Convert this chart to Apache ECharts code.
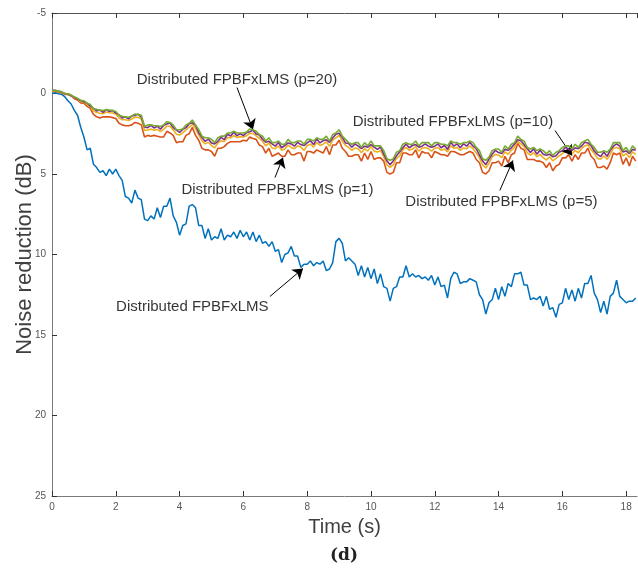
<!DOCTYPE html>
<html>
<head>
<meta charset="utf-8">
<script src="https://cdn.jsdelivr.net/npm/echarts@6/dist/echarts.min.js"></script>
<style>
html,body{margin:0;padding:0;background:#fff;}
#chart{width:638px;height:574px;}
</style>
</head>
<body>
<div id="chart"></div>
<script>
// Sample spacing (s) of the series below; sample i is at time i*DT
const DT = 0.1;
const xTicks = [0, 2, 4, 6, 8, 10, 12, 14, 16, 18];
const yTicks = [-5, 0, 5, 10, 15, 20, 25];
const seriesNames = ['Distributed FPBFxLMS', 'Distributed FPBFxLMS (p=1)', 'Distributed FPBFxLMS (p=5)', 'Distributed FPBFxLMS (p=10)', 'Distributed FPBFxLMS (p=20)'];

const blue = [
0,-0.05,0.02,0.05,0.2,0.45,0.65,1.05,1.35,2.1,
2.7,3.5,3.4,4.4,4.6,4.9,4.8,5.1,4.7,5.0,
4.7,5.1,5.4,6.4,6.5,6.8,6.0,6.5,6.6,7.8,
7.9,7.6,7.8,7.1,7.7,7.0,7.0,6.5,7.6,8.0,
8.8,8.2,8.1,7.0,6.9,7.1,8.2,8.2,9.0,8.4,
9.1,8.9,9.0,8.4,9.1,8.8,8.9,8.6,9.0,8.5,
8.9,8.6,9.1,8.6,9.2,8.8,9.3,9.2,9.5,9.2,
9.8,9.7,10.5,10.0,9.9,9.5,10.1,10.1,10.8,10.6,
10.6,10.4,10.7,10.5,10.6,10.4,11.0,10.9,10.5,9.2,
9.0,9.3,10.4,10.2,10.4,10.6,11.3,10.7,11.4,10.8,
11.5,10.9,11.8,11.2,12.0,12.1,12.9,12.1,12.0,11.4,
11.4,10.7,11.4,11.2,11.4,11.3,11.5,11.4,11.6,11.3,
11.9,11.4,12.0,11.9,12.7,11.5,11.1,11.2,11.8,11.7,
11.7,11.5,11.6,11.7,12.5,12.8,13.7,13.0,12.8,12.1,
12.8,12.0,12.6,11.8,12.0,11.2,11.2,11.1,11.9,11.9,
12.8,12.7,12.8,12.6,13.2,12.6,13.4,13.3,13.9,13.1,
13.0,12.1,12.8,12.2,12.9,12.1,12.7,11.8,11.8,11.3,
12.4,12.8,13.6,12.9,13.7,12.6,12.4,11.6,12.6,12.8,
13.0,12.9,12.9,12.7
];

const orangeP1 = [
-0.15,-0.13,-0.1,-0.04,0.05,0.07,0.15,0.32,0.4,0.58,
0.6,0.8,0.92,1.3,1.45,1.52,1.45,1.45,1.45,1.5,
1.55,1.85,1.95,2.0,2.0,1.95,1.8,1.85,1.95,2.7,
2.6,2.65,2.6,2.65,2.7,2.7,2.35,2.45,2.6,3.05,
3.0,3.0,2.6,2.5,2.1,2.6,2.9,3.4,3.5,3.5,
3.6,3.9,3.4,3.4,3.3,3.1,3.0,3.0,3.0,3.0,
2.9,2.95,2.7,2.8,2.85,3.2,3.3,3.7,3.4,3.9,
3.8,3.7,3.9,3.9,3.5,3.8,3.8,3.7,3.7,4.2,
3.6,3.6,3.7,3.5,3.6,3.7,3.3,3.8,3.2,3.2,
2.9,3.4,3.6,3.9,3.9,3.8,3.8,4.2,3.7,4.1,
3.6,4.1,4.0,4.0,4.2,4.9,5.0,4.9,4.3,4.3,
3.7,3.7,3.8,3.8,3.5,4.0,3.6,3.7,3.7,4.0,
3.6,3.7,3.8,3.8,3.9,3.6,3.6,3.7,3.8,3.8,
3.7,3.6,3.7,4.1,4.3,4.9,5.0,4.8,4.3,4.3,
4.2,4.5,3.9,4.3,3.8,3.7,3.1,3.4,3.5,4.1,
4.1,4.1,4.2,4.2,4.3,4.6,4.3,4.8,4.5,4.4,
4.0,4.0,3.8,4.2,3.8,4.1,3.7,3.7,3.4,3.9,
4.1,4.6,4.6,4.5,4.7,4.3,3.7,3.8,3.7,4.4,
4.0,4.5,3.9,4.2
];

const yellowP5 = [
-0.18,-0.17,-0.13,-0.07,0.02,0.04,0.13,0.25,0.35,0.5,
0.53,0.68,0.8,1.08,1.18,1.23,1.26,1.15,1.2,1.21,
1.28,1.51,1.63,1.63,1.68,1.58,1.48,1.48,1.58,2.28,
2.28,2.21,2.28,2.23,2.36,2.23,2.03,2.03,2.26,2.53,
2.58,2.45,2.26,2.08,1.93,2.18,2.58,2.93,3.13,3.03,
3.23,3.38,3.08,2.93,2.98,2.73,2.76,2.61,2.73,2.68,
2.7,2.63,2.48,2.48,2.63,2.78,2.98,3.25,3.08,3.38,
3.43,3.25,3.53,3.45,3.2,3.35,3.43,3.25,3.33,3.53,
3.23,3.15,3.33,3.05,3.23,3.15,3.0,3.28,2.9,2.75,
2.6,2.95,3.23,3.35,3.53,3.38,3.43,3.68,3.43,3.58,
3.3,3.58,3.63,3.55,3.93,4.43,4.58,4.43,4.03,3.88,
3.5,3.35,3.53,3.45,3.3,3.58,3.4,3.35,3.43,3.58,
3.4,3.35,3.53,3.45,3.63,3.25,3.4,3.35,3.53,3.38,
3.43,3.25,3.43,3.68,3.98,4.43,4.63,4.33,3.93,3.78,
3.83,3.98,3.63,3.78,3.53,3.35,2.98,3.13,3.3,3.68,
3.83,3.68,3.93,3.78,3.98,4.13,3.93,4.18,4.03,3.88,
3.73,3.58,3.6,3.78,3.53,3.68,3.43,3.25,3.2,3.48,
3.73,4.03,4.08,3.88,4.08,3.78,3.4,3.35,3.43,3.88,
3.73,3.98,3.63,3.78
];

const purpleP10 = [
-0.2,-0.2,-0.14,-0.1,0.01,0.02,0.12,0.23,0.34,0.44,
0.52,0.6,0.78,0.93,1.08,1.03,1.17,1.0,1.12,1.06,
1.22,1.33,1.52,1.46,1.57,1.4,1.37,1.28,1.47,2.08,
2.12,1.98,2.14,2.03,2.22,1.98,1.9,1.83,2.12,2.28,
2.42,2.23,2.12,1.88,1.82,1.98,2.44,2.73,2.97,2.83,
3.07,3.13,2.97,2.73,2.87,2.53,2.64,2.4,2.62,2.5,
2.62,2.43,2.37,2.28,2.52,2.58,2.84,3.03,2.97,3.13,
3.27,3.03,3.37,3.23,3.07,3.13,3.27,3.03,3.17,3.23,
3.07,2.93,3.17,2.83,3.07,2.93,2.87,3.03,2.77,2.53,
2.47,2.73,3.07,3.1,3.34,3.13,3.27,3.43,3.27,3.33,
3.17,3.33,3.47,3.33,3.77,4.18,4.42,4.18,3.87,3.63,
3.37,3.13,3.37,3.23,3.17,3.33,3.27,3.13,3.27,3.33,
3.27,3.13,3.37,3.23,3.47,3.03,3.27,3.13,3.37,3.13,
3.27,3.03,3.27,3.43,3.82,4.18,4.42,4.08,3.77,3.53,
3.67,3.73,3.47,3.53,3.37,3.13,2.87,2.93,3.17,3.43,
3.67,3.43,3.77,3.53,3.77,3.83,3.77,3.93,3.87,3.63,
3.57,3.33,3.47,3.53,3.37,3.43,3.27,3.03,3.07,3.23,
3.57,3.78,3.92,3.63,3.9,3.53,3.27,3.13,3.27,3.63,
3.57,3.73,3.47,3.53
];

const greenP20 = [
-0.2,-0.18,-0.15,-0.1,0,0.02,0.1,0.22,0.3,0.42,
0.45,0.6,0.68,0.95,0.98,1.05,1.05,1.0,1.02,1.05,
1.12,1.35,1.42,1.45,1.48,1.4,1.28,1.3,1.35,2.05,
1.95,1.95,2.0,2.0,2.05,1.95,1.75,1.8,1.95,2.25,
2.25,2.2,1.95,1.85,1.65,1.95,2.25,2.65,2.75,2.75,
2.85,3.05,2.75,2.65,2.65,2.45,2.45,2.35,2.45,2.45,
2.45,2.4,2.2,2.25,2.35,2.55,2.65,2.95,2.75,3.05,
3.05,2.95,3.15,3.15,2.85,3.05,3.05,2.95,2.95,3.15,
2.85,2.85,2.95,2.75,2.85,2.85,2.65,2.95,2.55,2.45,
2.25,2.65,2.85,3.05,3.15,3.05,3.05,3.35,3.05,3.25,
2.95,3.25,3.25,3.25,3.55,4.05,4.15,4.05,3.65,3.55,
3.15,3.05,3.15,3.15,2.95,3.25,3.05,3.05,3.05,3.25,
3.05,3.05,3.15,3.15,3.25,2.95,3.05,3.05,3.15,3.05,
3.05,2.95,3.05,3.35,3.55,4.05,4.15,3.95,3.55,3.45,
3.45,3.65,3.25,3.45,3.15,3.05,2.65,2.85,2.95,3.35,
3.45,3.35,3.55,3.45,3.55,3.75,3.55,3.85,3.65,3.55,
3.35,3.25,3.25,3.45,3.15,3.35,3.05,2.95,2.85,3.15,
3.35,3.65,3.65,3.55,3.65,3.45,3.05,3.05,3.05,3.55,
3.35,3.65,3.25,3.45
];

// Annotation texts with their anchor (data coordinates: time, dB)
const labelTexts = ['Distributed FPBFxLMS (p=20)', 'Distributed FPBFxLMS (p=1)', 'Distributed FPBFxLMS (p=10)', 'Distributed FPBFxLMS (p=5)', 'Distributed FPBFxLMS'];
const labelAt = [[5.80, -0.87], [7.07, 5.96], [12.57, 1.74], [14.09, 6.71], [4.40, 13.23]];
// Arrows: [tail, head] in data coordinates
const arrows = [
  [[5.80, -0.37], [6.30, 2.24]],
  [[6.99, 5.22], [7.24, 3.98]],
  [[15.77, 2.30], [16.30, 3.85]],
  [[14.04, 6.02], [14.45, 4.16]],
  [[6.83, 12.61], [7.87, 10.87]]
];

const colors = ['#0072BD', '#D95319', '#EDB120', '#7E2F8E', '#77AC30'];
const allSeries = [blue, orangeP1, yellowP5, purpleP10, greenP20];

const FONT = '"Liberation Sans", Arial, Helvetica, sans-serif';
const chart = echarts.init(document.getElementById('chart'), null, {renderer: 'canvas'});

const lineSeries = allSeries.map((arr, k) => ({
  name: seriesNames[k],
  type: 'line',
  xAxisIndex: 0,
  yAxisIndex: 0,
  data: arr.map((v, i) => [i * DT, v]),
  showSymbol: false,
  symbol: 'none',
  lineStyle: {color: colors[k], width: k === 0 ? 1.5 : 1.6},
  itemStyle: {color: colors[k]},
  z: 2 + k,
  animation: false,
  silent: true
}));

const annotationSeries = {
  type: 'scatter',
  xAxisIndex: 0,
  yAxisIndex: 0,
  symbolSize: 1,
  itemStyle: {color: 'rgba(0,0,0,0)'},
  z: 20,
  silent: true,
  animation: false,
  data: labelTexts.map((t, i) => ({name: t, value: labelAt[i]})),
  label: {
    show: true,
    position: 'inside',
    formatter: p => p.name,
    color: '#000',
    fontSize: 15,
    fontFamily: FONT
  },
  markLine: {
    silent: true,
    animation: false,
    symbol: ['none', 'arrow'],
    symbolSize: 10,
    label: {show: false},
    lineStyle: {color: '#000', width: 1, type: 'solid'},
    emphasis: {disabled: true},
    data: arrows.map(a => [{coord: a[0]}, {coord: a[1]}])
  }
};

const option = {
  backgroundColor: '#fff',
  animation: false,
  grid: {left: 52, right: 1, top: 13, bottom: 78, containLabel: false, outerBoundsMode: 'none'},
  xAxis: [{
    type: 'value',
    position: 'bottom',
    min: 0,
    max: 18.34,
    interval: 2,
    name: 'Time (s)',
    nameLocation: 'middle',
    nameGap: 21,
    nameMoveOverlap: false,
    nameTextStyle: {fontSize: 20, color: '#404040', fontFamily: FONT},
    axisLine: {show: true, onZero: false, lineStyle: {color: '#7a7a7a', width: 1}},
    axisTick: {show: true, inside: true, length: 5, lineStyle: {color: '#333'}},
    axisLabel: {show: true, fontSize: 10, color: '#555', margin: 6, fontFamily: FONT, showMaxLabel: false,
      formatter: v => (xTicks.indexOf(v) >= 0 ? String(v) : '')},
    splitLine: {show: false}
  }, {
    type: 'value',
    position: 'top',
    min: 0,
    max: 18.34,
    interval: 2,
    axisLine: {show: true, onZero: false, lineStyle: {color: '#555', width: 1}},
    axisTick: {show: true, inside: true, length: 5, lineStyle: {color: '#333'}},
    axisLabel: {show: false},
    splitLine: {show: false}
  }],
  yAxis: [{
    type: 'value',
    inverse: true,
    min: -5,
    max: 25,
    interval: 5,
    name: 'Noise reduction (dB)',
    nameLocation: 'middle',
    nameGap: 16,
    nameMoveOverlap: false,
    nameTextStyle: {fontSize: 22, color: '#404040', fontFamily: FONT},
    axisLine: {show: true, onZero: false, lineStyle: {color: '#7a7a7a', width: 1}},
    axisTick: {show: true, inside: true, length: 5, lineStyle: {color: '#333'}},
    axisLabel: {show: true, fontSize: 10, color: '#555', margin: 6, fontFamily: FONT,
      formatter: v => (yTicks.indexOf(v) >= 0 ? String(v) : '')},
    splitLine: {show: false}
  }],
  graphic: [{
    type: 'text',
    left: 330,
    top: 547,
    style: {text: '(d)', font: 'bold 17px "DejaVu Serif", "Liberation Serif", serif', fill: '#222'}
  }],
  series: lineSeries.concat([annotationSeries])
};

chart.setOption(option);
</script>
</body>
</html>
